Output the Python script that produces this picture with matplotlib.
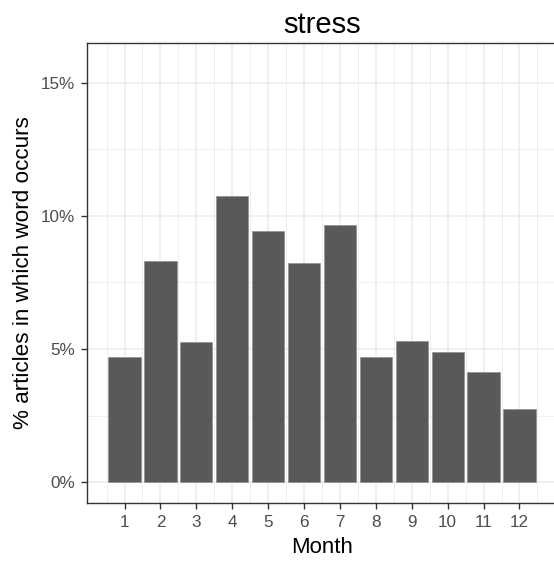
import matplotlib
matplotlib.use("Agg")
import matplotlib.pyplot as plt
from matplotlib.ticker import FixedLocator, FuncFormatter

plt.rcParams['font.family'] = ['Liberation Sans', 'DejaVu Sans']

months = [1, 2, 3, 4, 5, 6, 7, 8, 9, 10, 11, 12]
month_labels = ["1", "2", "3", "4", "5", "6", "7", "8", "9", "10", "11", "12"]
pct = [4.71, 8.30, 5.25, 10.74, 9.41, 8.22, 9.67, 4.71, 5.29, 4.87, 4.15, 2.74]
y_ticks = [0, 5, 10, 15]
title = "stress"
xlabel = "Month"
ylabel = "% articles in which word occurs"

W, H = 554, 562
fig = plt.figure(figsize=(W / 100, H / 100), dpi=100)
left, right, top, bottom = 87, 557, 43, 503
ax = fig.add_axes([left / W, (H - bottom) / H, (right - left) / W, (bottom - top) / H])

ax.bar(months, pct, width=0.9, color="#595959", edgecolor="#8a8a8a", linewidth=0.4, zorder=3)

ax.set_xlim(-0.045, 13.045)
ax.set_ylim(-0.785, 16.485)

ax.xaxis.set_major_locator(FixedLocator(months))
ax.set_xticklabels(month_labels)
ax.xaxis.set_minor_locator(FixedLocator([m + 0.5 for m in range(0, 13)]))
ax.yaxis.set_major_locator(FixedLocator(y_ticks))
ax.yaxis.set_major_formatter(FuncFormatter(lambda v, p: f"{v:.0f}%"))
ax.yaxis.set_minor_locator(FixedLocator([2.5, 7.5, 12.5]))

ax.grid(which="major", color="#EBEBEB", linewidth=1.1, zorder=0)
ax.grid(which="minor", color="#EBEBEB", linewidth=0.55, zorder=0)
ax.set_axisbelow(True)

for s in ax.spines.values():
    s.set_color("#333333")
    s.set_linewidth(1.0)

ax.tick_params(which="major", length=4.5, width=1.0, color="#333333", labelcolor="#4D4D4D", labelsize=12.3, pad=4)
ax.tick_params(which="minor", length=0)

ax.set_title(title, fontsize=21, color="black", pad=7)
ax.set_xlabel(xlabel, fontsize=16, labelpad=5)
ax.set_ylabel(ylabel, fontsize=16.2, labelpad=5)

fig.savefig("out.png", dpi=100, facecolor="white")
